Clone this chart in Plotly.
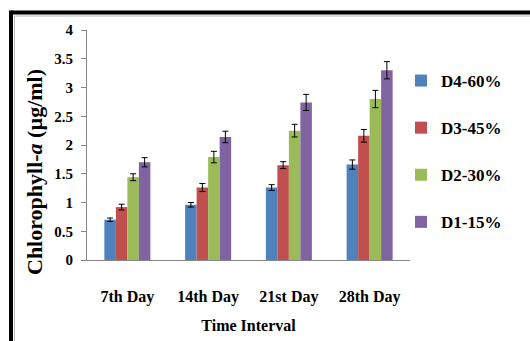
import plotly.graph_objects as go

# Chlorophyll-a content over time for four dilution treatments
days = ["7th Day", "14th Day", "21st Day", "28th Day"]
series_names = ["D4-60%", "D3-45%", "D2-30%", "D1-15%"]
d4_values = [0.70, 0.96, 1.26, 1.66]
d3_values = [0.92, 1.26, 1.65, 2.16]
d2_values = [1.44, 1.79, 2.25, 2.80]
d1_values = [1.70, 2.14, 2.74, 3.30]
d4_errors = [0.03, 0.04, 0.05, 0.08]
d3_errors = [0.05, 0.07, 0.06, 0.11]
d2_errors = [0.06, 0.10, 0.11, 0.15]
d1_errors = [0.08, 0.10, 0.14, 0.15]
y_ticks = [0, 0.5, 1, 1.5, 2, 2.5, 3, 3.5, 4]

values = [d4_values, d3_values, d2_values, d1_values]
errors = [d4_errors, d3_errors, d2_errors, d1_errors]
colors = ["#4F81BD", "#C0504D", "#9BBB59", "#8064A2"]

FONT = "Liberation Serif, Times New Roman, serif"

fig = go.Figure()
for name, vals, errs, color in zip(series_names, values, errors, colors):
    fig.add_trace(go.Bar(
        x=days, y=vals, name=name, legendgroup=name,
        marker=dict(color=color, line=dict(width=0)),
        error_y=dict(type="data", array=errs, visible=True,
                     color="#000000", thickness=1, width=3),
    ))

W, H = 530, 341
L, R, T, B = 87, 120, 30, 81
pw, ph = W - L - R, H - T - B


def px_x(x):
    return (x - L) / pw


def px_y(y):
    return (H - B - y) / ph


shapes = [
    # heavy black frame (top and left edges)
    dict(type="line", xref="paper", yref="paper", x0=px_x(11), x1=1.6,
         y0=px_y(12.5), y1=px_y(12.5), line=dict(color="#000000", width=4)),
    dict(type="line", xref="paper", yref="paper", x0=px_x(11), x1=px_x(11),
         y0=px_y(10.5), y1=-0.6, line=dict(color="#000000", width=4)),
    # thin inner frame line
    dict(type="line", xref="paper", yref="paper", x0=px_x(14.5), x1=1.6,
         y0=px_y(16), y1=px_y(16), line=dict(color="#BBBBBB", width=1)),
    dict(type="line", xref="paper", yref="paper", x0=px_x(14.5), x1=px_x(14.5),
         y0=px_y(16), y1=-0.6, line=dict(color="#BBBBBB", width=1)),
]

# vertical axis title, placed freely to the left of the tick labels
annotations = [
    dict(text="<b>Chlorophyll-<i>a</i> (µg/ml)</b>", xref="paper", yref="paper",
         x=px_x(34), y=px_y(172), xanchor="center", yanchor="middle",
         textangle=-90, showarrow=False,
         font=dict(family=FONT, size=22, color="#000000")),
]

fig.update_layout(
    width=W, height=H,
    margin=dict(l=L, r=R, t=T, b=B, pad=0, autoexpand=False),
    paper_bgcolor="#FFFFFF", plot_bgcolor="#FFFFFF",
    barmode="group", bargap=0.43, bargroupgap=0,
    font=dict(family=FONT, color="#000000"),
    showlegend=True,
    legend=dict(x=px_x(401), xanchor="left", y=px_y(63), yanchor="top",
                font=dict(family=FONT, size=17, color="#000000", weight="bold"),
                tracegroupgap=22, bgcolor="rgba(0,0,0,0)"),
    shapes=shapes,
    annotations=annotations,
)

fig.update_xaxes(
    showline=True, linecolor="#868686", linewidth=1, automargin=False,
    ticks="", showgrid=False, ticklabelstandoff=22,
    tickfont=dict(family=FONT, size=16, color="#000000", weight="bold"),
    title=dict(text="Time Interval", standoff=14,
               font=dict(family=FONT, size=16, color="#000000", weight="bold")),
)
fig.update_yaxes(
    range=[0, 4], tickvals=y_ticks, ticktext=[f"{v:g}" for v in y_ticks],
    showline=True, linecolor="#868686", linewidth=1, automargin=False,
    ticks="outside", ticklen=5, tickcolor="#868686",
    showgrid=False, zeroline=False, ticklabelstandoff=5,
    tickfont=dict(family=FONT, size=15, color="#000000", weight="bold"),
)

fig.write_html("out.html")
